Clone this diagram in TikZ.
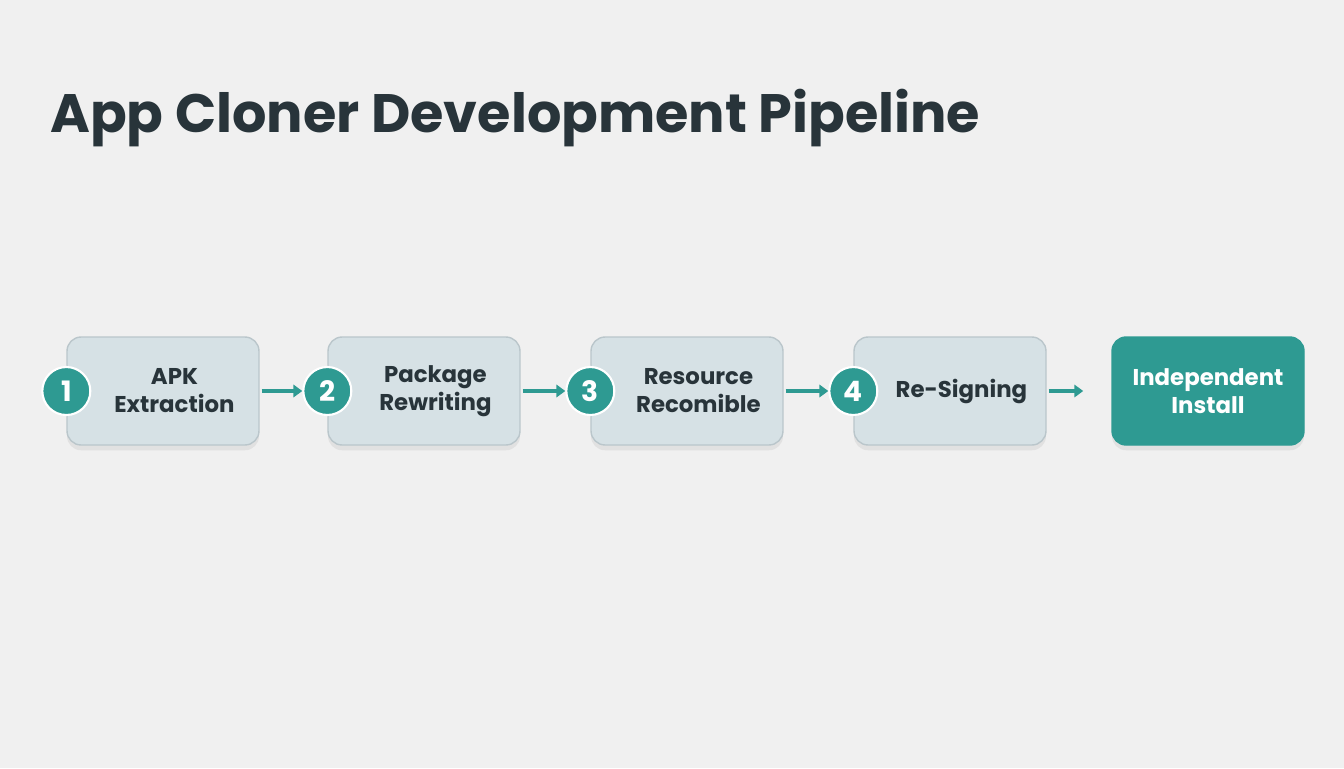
\documentclass[tikz,border=0pt]{standalone}
\usepackage{fontspec}
\setmainfont{Poppins}
\usetikzlibrary{arrows.meta, positioning, shadows}

\definecolor{bgcol}{HTML}{F0F0F0}
\definecolor{stagefill}{HTML}{D6E1E5}
\definecolor{stageline}{HTML}{BAC6CB}
\definecolor{teal}{HTML}{2E9A92}
\definecolor{ink}{HTML}{28343A}

\begin{document}
\begin{tikzpicture}[x=0.02cm, y=-0.02cm]

  % Define styles for the pipeline
  \tikzstyle{stage} = [draw=stageline, line width=0.8pt, rounded corners=8pt, fill=stagefill,
    minimum width=3.84cm, minimum height=2.16cm, align=center, text=ink,
    font=\fontsize{13}{16}\selectfont\bfseries, drop shadow={shadow xshift=0pt, shadow yshift=-3pt, fill=black!25, opacity=0.3}]
  \tikzstyle{final} = [stage, draw=teal, fill=teal, text=white]
  \tikzstyle{badge} = [circle, fill=teal, draw=white, line width=1.2pt, minimum size=0.96cm, inner sep=0pt,
    text=white, font=\fontsize{16}{16}\selectfont\bfseries]
  \tikzstyle{flow} = [-{Triangle[length=5pt, width=7pt]}, line width=2pt, teal]

  \fill[bgcol] (0,0) rectangle (1344,768);

  \node (title) [anchor=west, text=ink, font=\fontsize{30.8}{36}\selectfont\bfseries] at (44,118)
    {App Cloner Development Pipeline};

  \node (extract) [stage] at (163,391) {\hspace{1em}APK\\\hspace{1em}Extraction};
  \node (rewrite) [stage] at (424,391) {\hspace{1em}Package\\\hspace{1em}Rewriting};
  \node (recomp) [stage] at (687,391) {\hspace{1em}Resource\\\hspace{1em}Recomible};
  \node (sign) [stage] at (950,391) {\hspace{1em}Re-Signing};
  \node (install) [final] at (1208,391) {Independent\\Install};

  \node (n1) [badge] at (extract.west) {1};
  \node (n2) [badge] at (rewrite.west) {2};
  \node (n3) [badge] at (recomp.west) {3};
  \node (n4) [badge] at (sign.west) {4};

  \draw[flow] (extract.east) ++(2,0) -- (n2.west);
  \draw[flow] (rewrite.east) ++(2,0) -- (n3.west);
  \draw[flow] (recomp.east) ++(2,0) -- (n4.west);
  \draw[flow] (sign.east) ++(2,0) -- ([xshift=-16]install.west);

\end{tikzpicture}
\end{document}
